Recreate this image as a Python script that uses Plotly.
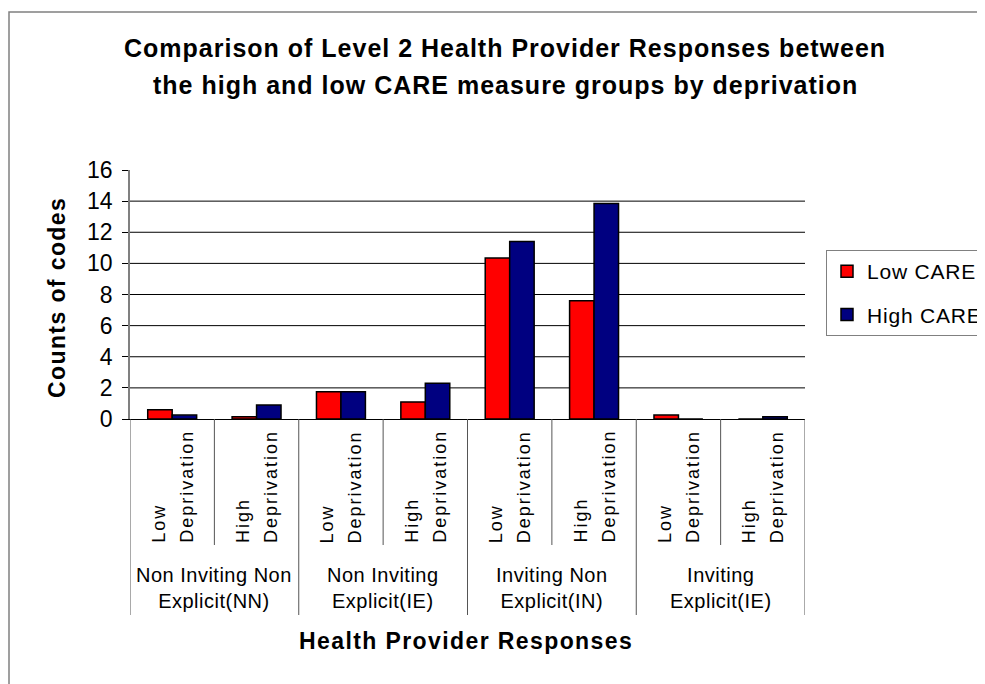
import plotly.graph_objects as go

# ---- data ----
sub_line1 = ["Low", "High"] * 4
sub_line2 = ["Deprivation"] * 8
group_labels = ["Non Inviting Non<br>Explicit(NN)", "Non Inviting<br>Explicit(IE)",
                "Inviting Non<br>Explicit(IN)", "Inviting<br>Explicit(IE)"]
low_care = [0.6, 0.15, 1.75, 1.1, 10.35, 7.6, 0.25, 0.0]
high_care = [0.25, 0.9, 1.75, 2.3, 11.4, 13.85, 0.0, 0.15]
series_names = ["Low CARE", "High CARE"]
y_ticks = [0, 2, 4, 6, 8, 10, 12, 14, 16]

FONT = "Arial, Liberation Sans, sans-serif"
OFF = 8  # page body margin
W, H = 985 - OFF, 684 - OFF
ML, MT = 130 - OFF, 170 - OFF
PW, PH = 675, 249
MR, MB = W - ML - PW, H - MT - PH


def px_x(p):  # screen pixel -> paper x
    return (p - OFF - ML) / PW


def px_y(p):  # screen pixel -> paper y
    return (H - MB - (p - OFF)) / PH


def ls(text, sp):
    return f'<span style="letter-spacing:{sp}px">{text}</span>'


xs = list(range(len(low_care)))
fig = go.Figure()
fig.add_trace(go.Bar(x=xs, y=low_care, name=ls(series_names[0], 0.8),
                     marker=dict(color="#FF0000", line=dict(color="black", width=1.5)),
                     legendgroup="a"))
fig.add_trace(go.Bar(x=xs, y=high_care, name=ls(series_names[1], 0.8),
                     marker=dict(color="#000080", line=dict(color="black", width=1.5)),
                     legendgroup="b"))

shapes = []
for t in y_ticks[1:-1]:
    shapes.append(dict(type="line", xref="paper", yref="y", x0=0, x1=1, y0=t, y1=t,
                       line=dict(color="black", width=1), layer="below"))
n = len(xs)
for i in range(n + 1):
    b = i - 0.5
    is_group = (i % 2 == 0)
    shapes.append(dict(type="line", xref="x", yref="paper", x0=b, x1=b,
                       y0=0, y1=px_y(615) if is_group else px_y(545),
                       line=dict(color="#555555", width=1)))
shapes.append(dict(type="rect", xref="paper", yref="paper",
                   x0=px_x(9), x1=px_x(1000), y0=px_y(700), y1=px_y(12),
                   line=dict(color="#808080", width=1.5)))

ann = []
for i in range(n):
    for txt, sh in ((sub_line1[i], -14), (sub_line2[i], 14)):
        ann.append(dict(x=i, xref="x", y=px_y(545), yref="paper", text=ls(txt, 2.0),
                        textangle=-90, xanchor="center", yanchor="bottom", xshift=sh,
                        showarrow=False, font=dict(family=FONT, size=18, color="black")))
for g, lab in enumerate(group_labels):
    ann.append(dict(x=2 * g + 0.5, xref="x", y=px_y(588), yref="paper", text=ls(lab, 0.5),
                    align="center", xanchor="center", yanchor="middle",
                    showarrow=False, font=dict(family=FONT, size=20, color="black")))
ann.append(dict(x=px_x(505), y=px_y(48), xref="paper", yref="paper",
                text=ls("<b>Comparison of Level 2 Health Provider Responses between</b>", 1.0),
                showarrow=False, xanchor="center", yanchor="middle",
                font=dict(family=FONT, size=25, color="black")))
ann.append(dict(x=px_x(505), y=px_y(85), xref="paper", yref="paper",
                text=ls("<b>the high and low CARE measure groups by deprivation</b>", 1.0),
                showarrow=False, xanchor="center", yanchor="middle",
                font=dict(family=FONT, size=25, color="black")))
ann.append(dict(x=px_x(466), y=px_y(641), xref="paper", yref="paper",
                text=ls("<b>Health Provider Responses</b>", 1.4),
                showarrow=False, xanchor="center", yanchor="middle",
                font=dict(family=FONT, size=23, color="black")))
ann.append(dict(x=px_x(57), y=px_y(298), xref="paper", yref="paper",
                text=ls("<b>Counts of codes</b>", 1.4), textangle=-90,
                showarrow=False, xanchor="center", yanchor="middle",
                font=dict(family=FONT, size=23, color="black")))

fig.update_layout(
    width=W, height=H,
    margin=dict(l=ML, r=MR, t=MT, b=MB, autoexpand=False),
    paper_bgcolor="white", plot_bgcolor="white",
    barmode="group", bargap=0.42, bargroupgap=0,
    font=dict(family=FONT, color="black"),
    showlegend=True,
    legend=dict(x=px_x(826), xanchor="left", y=px_y(250), yanchor="top",
                bordercolor="#808080", borderwidth=1, bgcolor="white",
                font=dict(family=FONT, size=21, color="black"),
                traceorder="grouped", tracegroupgap=13, itemwidth=30),
    shapes=shapes, annotations=ann,
    xaxis=dict(range=[-0.5, n - 0.5], showticklabels=False, ticks="",
               showgrid=False, zeroline=False, showline=True,
               linecolor="black", linewidth=1),
    yaxis=dict(range=[0, 16], tickvals=y_ticks, ticks="outside", ticklen=6,
               tickcolor="black", showgrid=False, zeroline=False,
               showline=True, linecolor="#808080", linewidth=1.5,
               ticklabelstandoff=5,
               tickfont=dict(family=FONT, size=23, color="black")),
)

fig.write_html("out.html")
